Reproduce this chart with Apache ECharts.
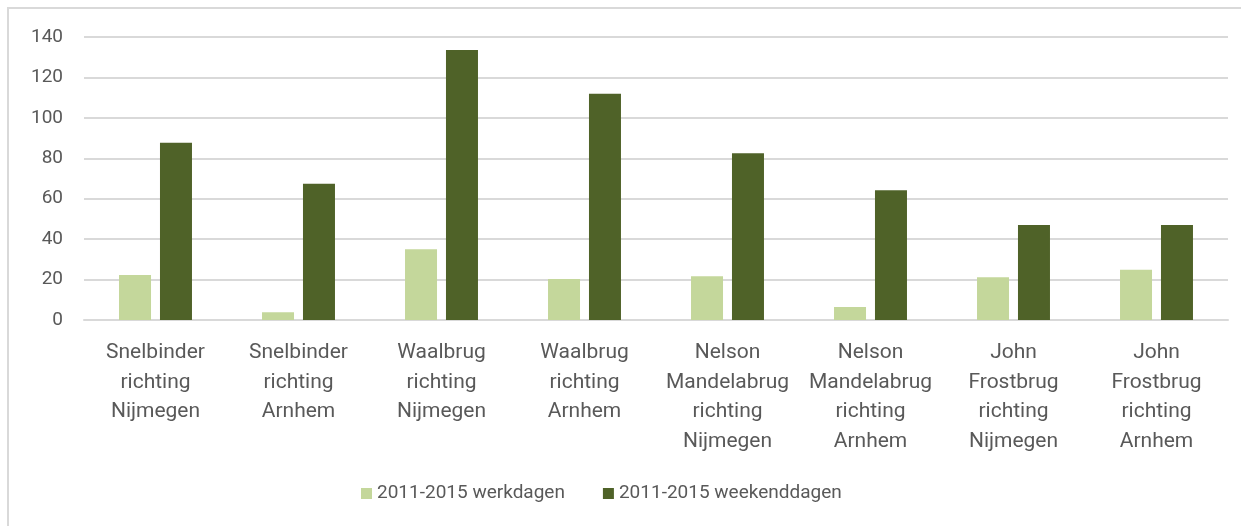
<!DOCTYPE html>
<html>
<head>
<meta charset="utf-8">
<script src="https://cdn.jsdelivr.net/npm/echarts@6/dist/echarts.min.js"></script>
<style>
  html, body { margin: 0; padding: 0; background: #fff; }
  #main { width: 1241px; height: 526px; }
</style>
</head>
<body>
<div id="main"></div>
<script>
const categories = [
  'Snelbinder\nrichting\nNijmegen',
  'Snelbinder\nrichting\nArnhem',
  'Waalbrug\nrichting\nNijmegen',
  'Waalbrug\nrichting\nArnhem',
  'Nelson\nMandelabrug\nrichting\nNijmegen',
  'Nelson\nMandelabrug\nrichting\nArnhem',
  'John\nFrostbrug\nrichting\nNijmegen',
  'John\nFrostbrug\nrichting\nArnhem'
];
const werkdagen = [22.3, 3.8, 35.0, 20.3, 21.6, 6.4, 21.1, 24.9];
const weekenddagen = [87.7, 67.4, 133.6, 111.9, 82.5, 64.2, 47.0, 47.0];

const font = 'Roboto, Lato, sans-serif';
const textColor = '#595959';

const chart = echarts.init(document.getElementById('main'));

const option = {
  animation: false,
  backgroundColor: '#fff',
  graphic: [{
    type: 'rect',
    shape: { x: 8, y: 8, width: 1260, height: 540 },
    style: { fill: 'none', stroke: '#d9d9d9', lineWidth: 2 },
    silent: true
  }],
  legend: {
    bottom: 18,
    left: 356,
    itemWidth: 11,
    itemHeight: 11,
    itemGap: 38,
    icon: 'rect',
    textStyle: { color: textColor, fontSize: 19, fontFamily: font }
  },
  grid: { left: 84, right: 13, top: 37, bottom: 206 },
  xAxis: {
    type: 'category',
    data: categories,
    axisLine: { lineStyle: { color: '#d9d9d9', width: 2 } },
    axisTick: { show: false },
    axisLabel: {
      color: textColor,
      fontSize: 21,
      fontFamily: font,
      lineHeight: 29.5,
      interval: 0,
      margin: 18,
      verticalAlign: 'top'
    }
  },
  yAxis: {
    type: 'value',
    min: 0,
    max: 140,
    interval: 20,
    axisLine: { show: false },
    axisTick: { show: false },
    splitLine: { lineStyle: { color: '#d9d9d9', width: 2 } },
    axisLabel: { color: textColor, fontSize: 19, fontFamily: font, margin: 21 }
  },
  series: [
    {
      name: '2011-2015 werkdagen',
      type: 'bar',
      data: werkdagen,
      barWidth: 32,
      barGap: '28%',
      itemStyle: { color: '#c4d79b' }
    },
    {
      name: '2011-2015 weekenddagen',
      type: 'bar',
      data: weekenddagen,
      barWidth: 32,
      barGap: '28%',
      itemStyle: { color: '#4f6228' }
    }
  ]
};

chart.setOption(option);
</script>
</body>
</html>
